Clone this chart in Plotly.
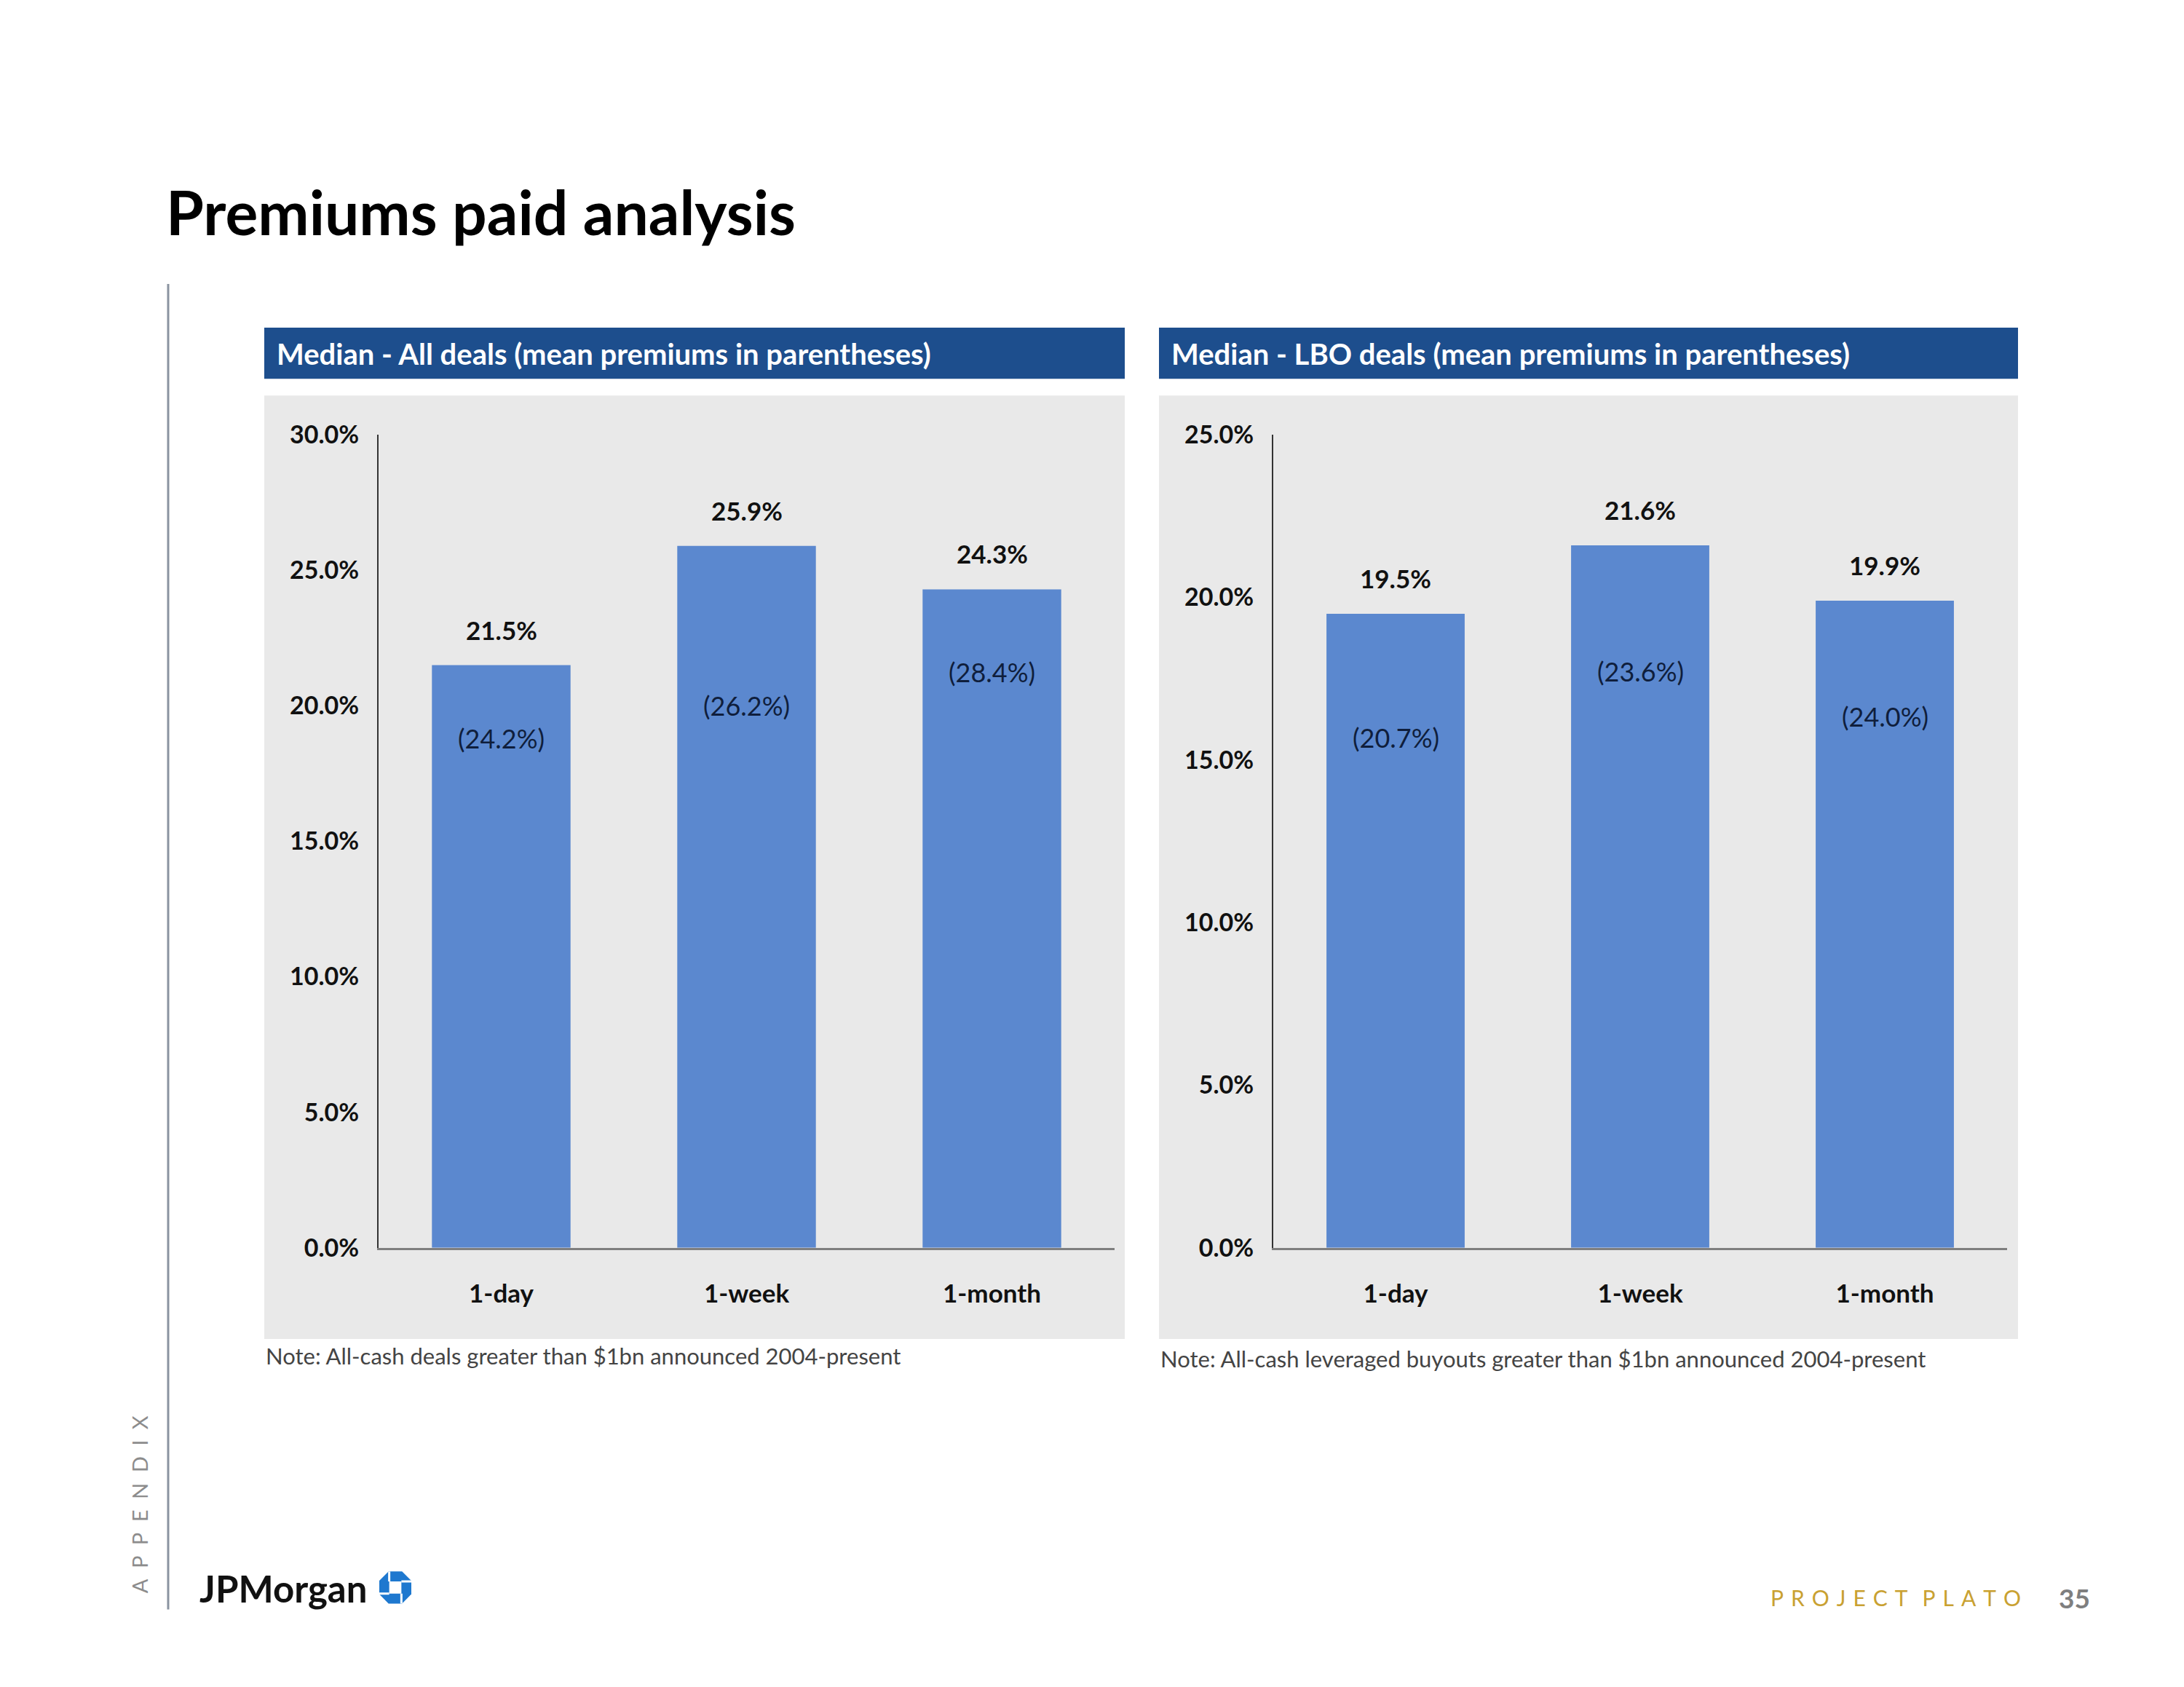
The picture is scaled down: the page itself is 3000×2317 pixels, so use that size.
import plotly.graph_objects as go

# ---------------- data ----------------
CATEGORIES = ["1-day", "1-week", "1-month"]
ALL_MEDIAN = [21.5, 25.9, 24.3]
ALL_MEAN = [24.2, 26.2, 28.4]
LBO_MEDIAN = [19.5, 21.6, 19.9]
LBO_MEAN = [20.7, 23.6, 24.0]
ALL_TICKS = [0, 5, 10, 15, 20, 25, 30]
LBO_TICKS = [0, 5, 10, 15, 20, 25]

TITLE = "Premiums paid analysis"
LEFT_HEADER = "Median - All deals (mean premiums in parentheses)"
RIGHT_HEADER = "Median - LBO deals (mean premiums in parentheses)"
LEFT_NOTE = "Note: All-cash deals greater than $1bn announced 2004-present"
RIGHT_NOTE = "Note: All-cash leveraged buyouts greater than $1bn announced 2004-present"

# ---------------- styling / layout ----------------
W, H = 3000, 2317
FONT = "Lato, 'Open Sans', sans-serif"
BAR_COLOR = "#5B88CF"
HEADER_COLOR = "#1D4E8D"
PANEL_BG = "#E9E9E9"
# pixel offsets of the mean labels below each bar top (label placement only)
ALL_MEAN_OFFSET = [100, 219, 114]
LBO_MEAN_OFFSET = [170, 173, 159]

# empirical correction between requested and photographed page position
XOFF = 8.0
YA, YB = 0.981, 32.5


def px(x):
    return (x - XOFF) / W


def py(y):
    return 1 - ((y - YB) / YA) / H


fig = go.Figure()
fig.add_trace(go.Bar(x=CATEGORIES, y=ALL_MEDIAN, xaxis="x", yaxis="y",
                     marker=dict(color=BAR_COLOR, line=dict(width=0)),
                     width=0.565, hoverinfo="skip", showlegend=False))
fig.add_trace(go.Bar(x=CATEGORIES, y=LBO_MEDIAN, xaxis="x2", yaxis="y2",
                     marker=dict(color=BAR_COLOR, line=dict(width=0)),
                     width=0.565, hoverinfo="skip", showlegend=False))

ydom = [py(1714), py(599)]
xcommon = dict(showline=True, linecolor="#7F7F7F", linewidth=3, showgrid=False,
               ticks="", tickfont=dict(family=FONT, size=35, color="#111111", weight="bold"),
               ticklabelstandoff=30, zeroline=False, fixedrange=True)
ycommon = dict(showline=True, linecolor="#333333", linewidth=2, showgrid=False,
               zeroline=False, ticks="",
               tickfont=dict(family=FONT, size=34, color="#111111", weight="bold"),
               ticklabelstandoff=18, fixedrange=True)

fig.update_layout(
    width=W, height=H,
    margin=dict(l=0, r=0, t=0, b=0),
    paper_bgcolor="white",
    plot_bgcolor="rgba(0,0,0,0)",
    bargap=0.435,
    xaxis=dict(domain=[px(520), px(1531)], anchor="y", **xcommon),
    yaxis=dict(domain=ydom, anchor="x", range=[0, 30], tickvals=ALL_TICKS,
               ticktext=[f"{v:.1f}%" for v in ALL_TICKS], **ycommon),
    xaxis2=dict(domain=[px(1749), px(2757)], anchor="y2", **xcommon),
    yaxis2=dict(domain=ydom, anchor="x2", range=[0, 25], tickvals=LBO_TICKS,
                ticktext=[f"{v:.1f}%" for v in LBO_TICKS], **ycommon),
)

shapes = []
# panels background and headers
for x0, x1 in [(363, 1545), (1592, 2772)]:
    shapes.append(dict(type="rect", xref="paper", yref="paper", layer="below",
                       x0=px(x0), x1=px(x1), y0=py(1839), y1=py(545),
                       fillcolor=PANEL_BG, line=dict(width=0)))
    shapes.append(dict(type="rect", xref="paper", yref="paper", layer="below",
                       x0=px(x0), x1=px(x1), y0=py(522), y1=py(452),
                       fillcolor=HEADER_COLOR, line=dict(width=0)))
# left vertical rule
shapes.append(dict(type="line", xref="paper", yref="paper",
                   x0=px(231), x1=px(231), y0=py(392), y1=py(2210),
                   line=dict(color="#8A93A0", width=3)))

# Chase-style octagon logo
cx, cy, r = 543, 2180, 22
o = r * 0.42
pts = [(-o, -r), (o, -r), (r, -o), (r, o), (o, r), (-o, r), (-r, o), (-r, -o)]
path = "M " + " L ".join(f"{px(cx + a)},{py(cy + b)}" for a, b in pts) + " Z"
shapes.append(dict(type="path", xref="paper", yref="paper", path=path,
                   fillcolor="#1E78CF", line=dict(width=0)))
s = r * 0.38
shapes.append(dict(type="rect", xref="paper", yref="paper",
                   x0=px(cx - s), x1=px(cx + s), y0=py(cy + s), y1=py(cy - s),
                   fillcolor="white", line=dict(width=0)))
for (ax0, ay0, ax1, ay1) in [(-s, -s, -s, -r), (s, -s, r, -s), (s, s, s, r), (-s, s, -r, s)]:
    shapes.append(dict(type="line", xref="paper", yref="paper",
                       x0=px(cx + ax0), y0=py(cy + ay0), x1=px(cx + ax1), y1=py(cy + ay1),
                       line=dict(color="white", width=3)))
fig.update_layout(shapes=shapes)

ann = []
ann.append(dict(text=f"<b>{TITLE}</b>", xref="paper", yref="paper", x=px(226), y=py(293),
                xanchor="left", yanchor="middle", showarrow=False,
                font=dict(family=FONT, size=84, color="#000000")))
ann.append(dict(text=f"<b>{LEFT_HEADER}</b>", xref="paper", yref="paper", x=px(378), y=py(488),
                xanchor="left", yanchor="middle", showarrow=False,
                font=dict(family=FONT, size=40, color="white")))
ann.append(dict(text=f"<b>{RIGHT_HEADER}</b>", xref="paper", yref="paper", x=px(1607), y=py(488),
                xanchor="left", yanchor="middle", showarrow=False,
                font=dict(family=FONT, size=40, color="white")))
ann.append(dict(text=LEFT_NOTE, xref="paper", yref="paper", x=px(363), y=py(1862),
                xanchor="left", yanchor="middle", showarrow=False,
                font=dict(family=FONT, size=31, color="#444444")))
ann.append(dict(text=RIGHT_NOTE, xref="paper", yref="paper", x=px(1592), y=py(1866),
                xanchor="left", yanchor="middle", showarrow=False,
                font=dict(family=FONT, size=31, color="#444444")))

# data labels
for xr, yr, med, mean, offs in [("x", "y", ALL_MEDIAN, ALL_MEAN, ALL_MEAN_OFFSET),
                                ("x2", "y2", LBO_MEDIAN, LBO_MEAN, LBO_MEAN_OFFSET)]:
    for c, m, mn, off in zip(CATEGORIES, med, mean, offs):
        ann.append(dict(text=f"<b>{m:.1f}%</b>", xref=xr, yref=yr, x=c, y=m, yshift=49,
                        xanchor="center", yanchor="middle", showarrow=False,
                        font=dict(family=FONT, size=35, color="#111111")))
        ann.append(dict(text=f"({mn:.1f}%)", xref=xr, yref=yr, x=c, y=m, yshift=-off,
                        xanchor="center", yanchor="middle", showarrow=False,
                        font=dict(family=FONT, size=36, color="#0F1E3C")))

# side / footer texts
ann.append(dict(text="\u2002".join("APPENDIX"), xref="paper", yref="paper", x=px(191), y=py(2066),
                xanchor="center", yanchor="middle", textangle=-90, showarrow=False,
                font=dict(family=FONT, size=29, color="#8C8C8C")))
ann.append(dict(text="<b>JPMorgan</b>", xref="paper", yref="paper", x=px(272), y=py(2181),
                xanchor="left", yanchor="middle", showarrow=False,
                font=dict(family=FONT, size=51, color="#111111")))
ann.append(dict(text="\u2004".join("PROJECT") + "\u2004\u2004" + "\u2004".join("PLATO"),
                xref="paper", yref="paper", x=px(2430), y=py(2194),
                xanchor="left", yanchor="middle", showarrow=False,
                font=dict(family=FONT, size=30, color="#C9A132")))
ann.append(dict(text="<b>35</b>", xref="paper", yref="paper", x=px(2826), y=py(2194),
                xanchor="left", yanchor="middle", showarrow=False,
                font=dict(family=FONT, size=37, color="#7F7F7F")))

fig.update_layout(annotations=ann)
fig.write_html("out.html")
